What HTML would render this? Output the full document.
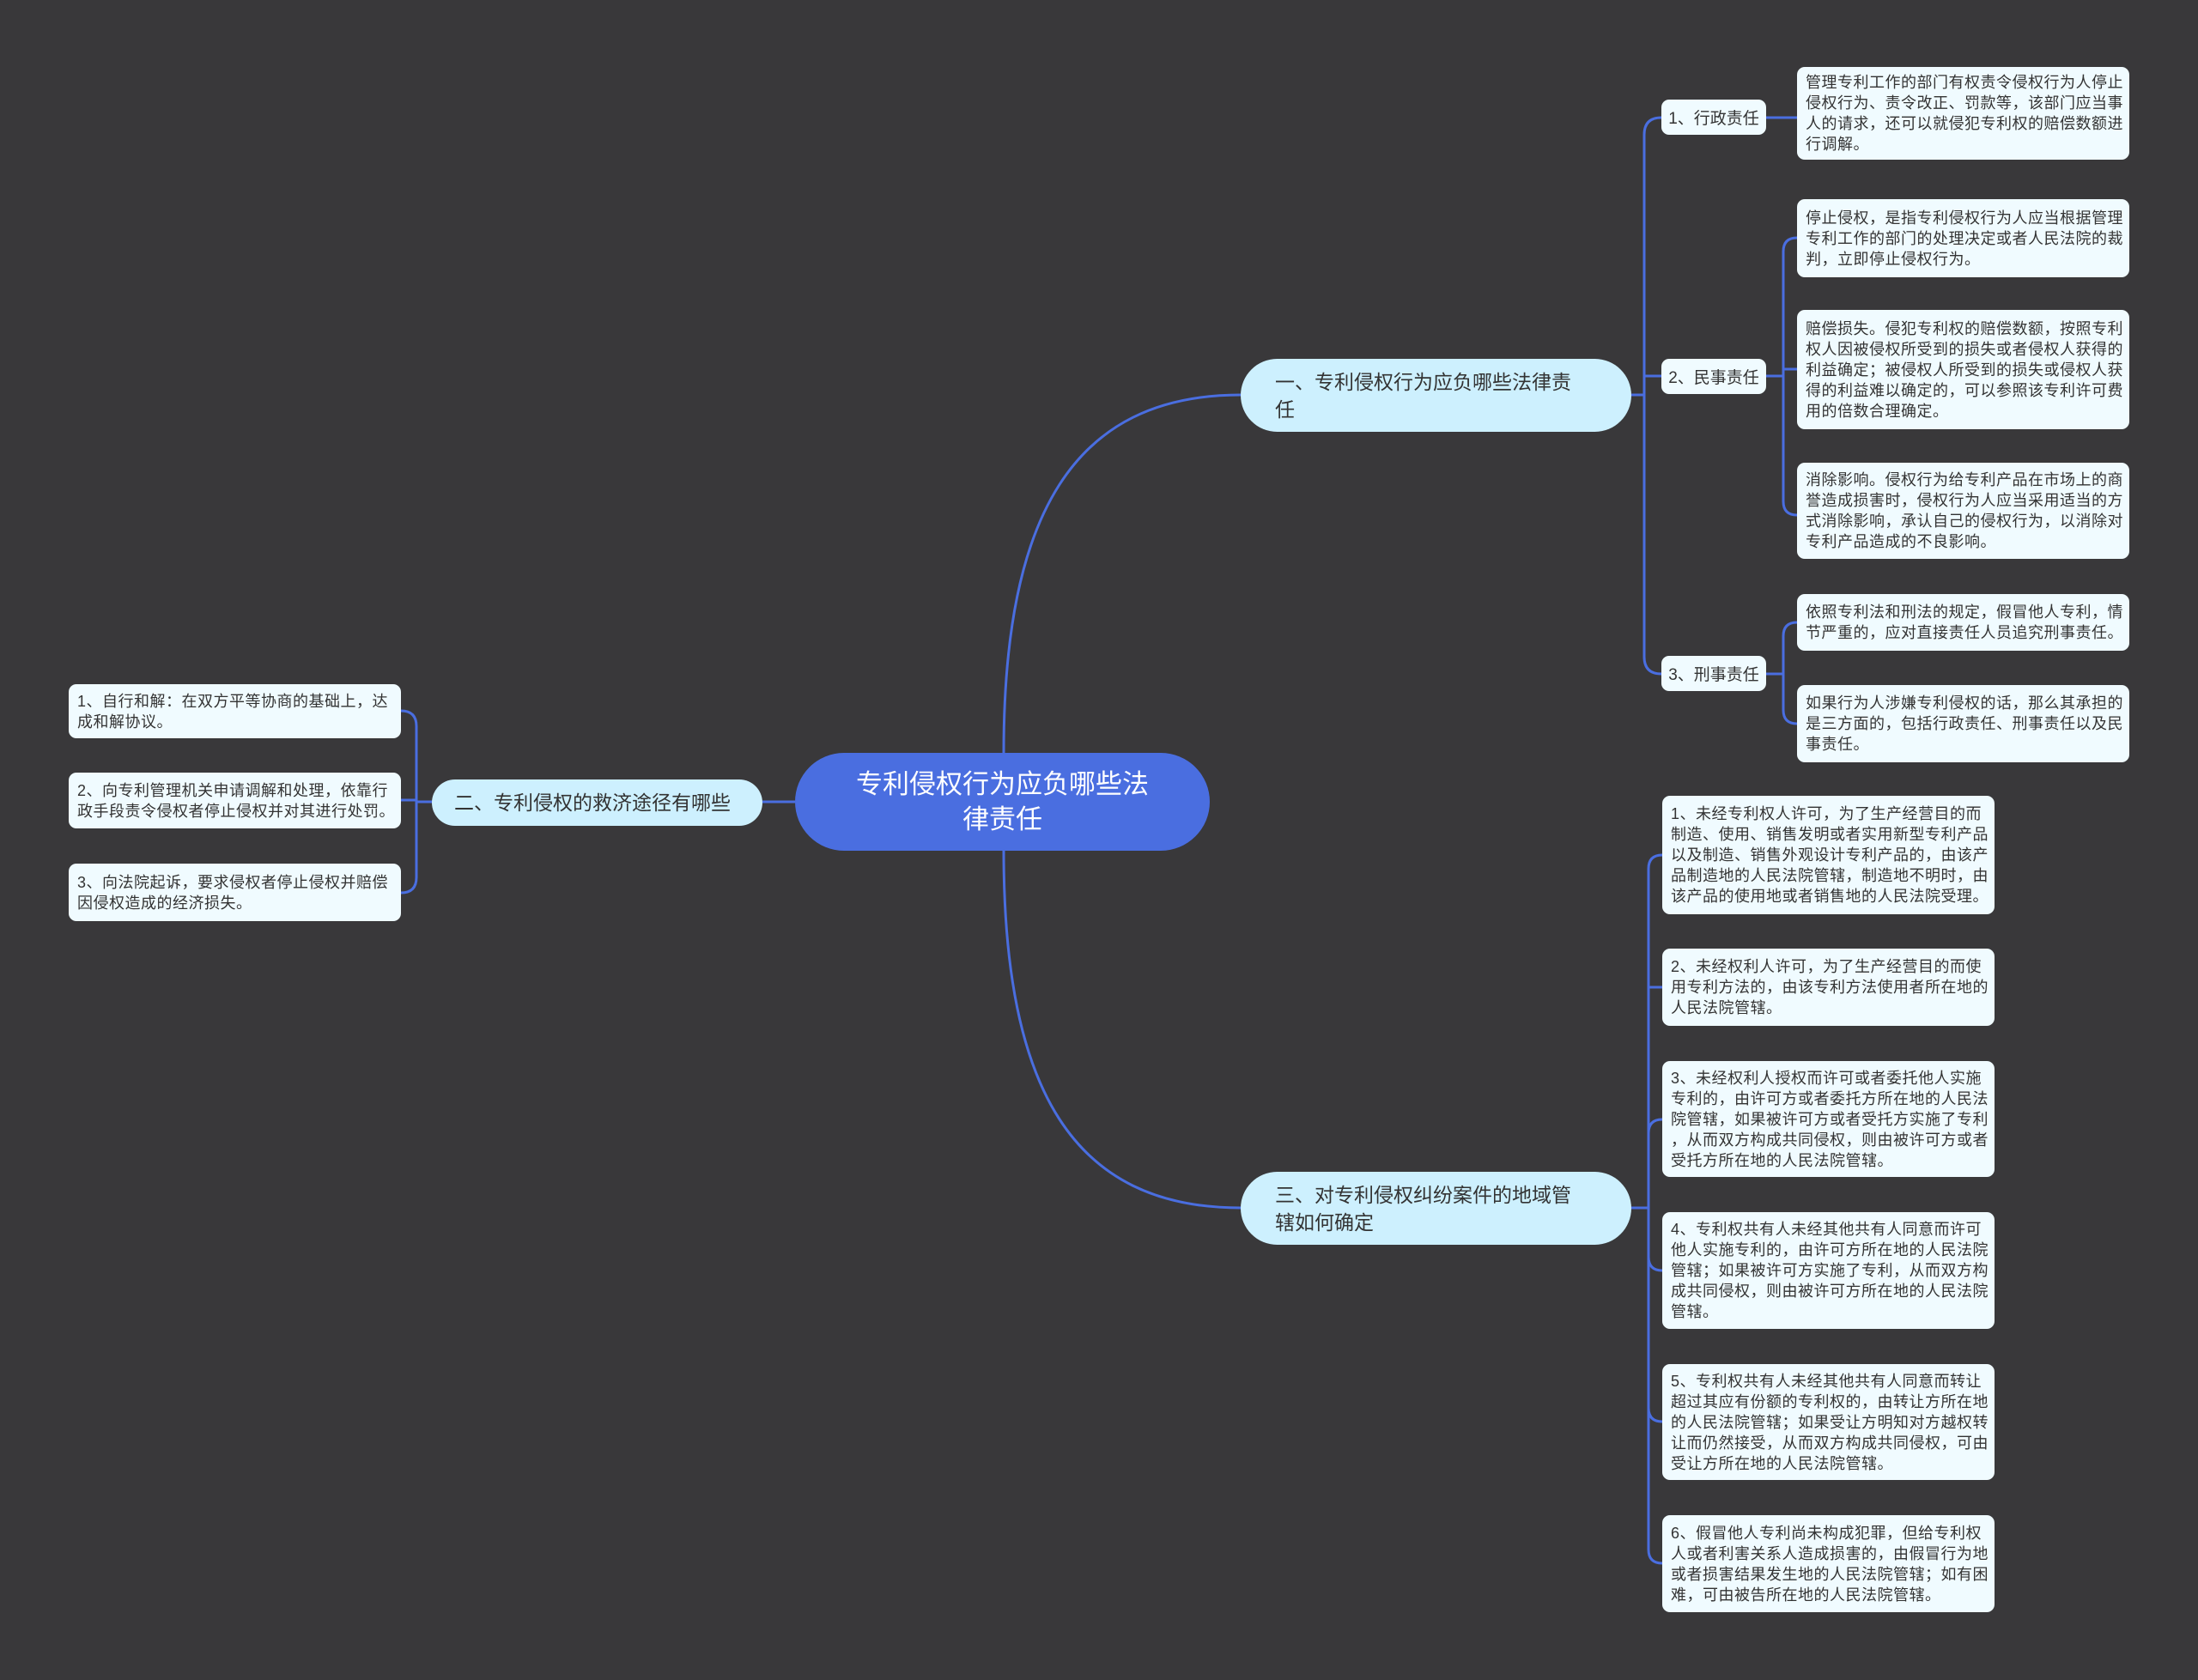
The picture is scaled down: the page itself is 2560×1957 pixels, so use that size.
<!DOCTYPE html>
<html><head><meta charset="utf-8">
<style>
html,body{margin:0;padding:0;background:#39383a;}
body{width:2560px;height:1957px;position:relative;overflow:hidden;font-family:"Liberation Sans","Noto Sans CJK SC",sans-serif;}
.leaf{position:absolute;background:#f0fbff;border-radius:9px;color:#333;font-size:18px;line-height:24px;padding:0 10px;box-sizing:border-box;white-space:nowrap;display:flex;align-items:center;letter-spacing:0.5px;}
.lab{position:absolute;background:#f0fbff;border-radius:9px;color:#333;font-size:19px;box-sizing:border-box;display:flex;align-items:center;justify-content:center;white-space:nowrap;}
.l1{position:absolute;background:#cdf0fe;color:#333;font-size:23px;line-height:32px;box-sizing:border-box;display:flex;align-items:center;border-radius:44px;padding-left:40px;}
svg{position:absolute;left:0;top:0;}
</style></head><body>
<svg width="2560" height="1957" fill="none" stroke="#4a6ee0" stroke-width="3">
<path d="M1169 877 C1169 600 1250 460 1445 460"/>
<path d="M1169 991 C1169 1270 1250 1407 1445 1407"/>
<path d="M926 934 L888 934"/>
<path d="M1900 460 L1915 460"/>
<path d="M1935 137 Q1915 137 1915 157 L1915 765 Q1915 785 1935 785"/>
<path d="M1915 438 L1935 438"/>
<path d="M2057 137 L2093 137"/>
<path d="M2057 438 L2077 438"/>
<path d="M2093 277 Q2077 277 2077 293 L2077 584 Q2077 600 2093 600"/>
<path d="M2077 430 L2093 430"/>
<path d="M2057 785 L2077 785"/>
<path d="M2093 725 Q2077 725 2077 741 L2077 827 Q2077 843 2093 843"/>
<path d="M1900 1407 L1920 1407"/>
<path d="M1936 996 Q1920 996 1920 1012 L1920 1805 Q1920 1821 1936 1821"/>
<path d="M1920 1150 L1936 1150"/>
<path d="M1920 1320 Q1920 1304 1936 1304"/>
<path d="M1920 1464 Q1920 1480 1936 1480"/>
<path d="M1920 1640 Q1920 1656 1936 1656"/>
<path d="M503 934 L485 934"/>
<path d="M467 828 Q485 828 485 846 L485 1022 Q485 1040 467 1040"/>
<path d="M485 932 L467 932"/>
</svg>

<div style="position:absolute;left:926px;top:877px;width:483px;height:114px;background:#4a6ee0;border-radius:57px;color:#fff;font-size:31px;line-height:41px;text-align:center;display:flex;align-items:center;justify-content:center;">专利侵权行为应负哪些法<br>律责任</div>

<div class="l1" style="left:1445px;top:418px;width:455px;height:85px;">一、专利侵权行为应负哪些法律责<br>任</div>
<div class="l1" style="left:1445px;top:1365px;width:455px;height:85px;">三、对专利侵权纠纷案件的地域管<br>辖如何确定</div>
<div class="l1" style="left:503px;top:908px;width:385px;height:54px;padding-left:26px;font-size:23px;">二、专利侵权的救济途径有哪些</div>

<div class="lab" style="left:1935px;top:116px;width:122px;height:41px;">1、行政责任</div>
<div class="lab" style="left:1935px;top:418px;width:122px;height:41px;">2、民事责任</div>
<div class="lab" style="left:1935px;top:764px;width:122px;height:41px;">3、刑事责任</div>

<div class="leaf" style="left:2093px;top:78px;width:387px;height:108px;">管理专利工作的部门有权责令侵权行为人停止<br>侵权行为、责令改正、罚款等，该部门应当事<br>人的请求，还可以就侵犯专利权的赔偿数额进<br>行调解。</div>
<div class="leaf" style="left:2093px;top:232px;width:387px;height:91px;">停止侵权，是指专利侵权行为人应当根据管理<br>专利工作的部门的处理决定或者人民法院的裁<br>判，立即停止侵权行为。</div>
<div class="leaf" style="left:2093px;top:361px;width:387px;height:139px;">赔偿损失。侵犯专利权的赔偿数额，按照专利<br>权人因被侵权所受到的损失或者侵权人获得的<br>利益确定；被侵权人所受到的损失或侵权人获<br>得的利益难以确定的，可以参照该专利许可费<br>用的倍数合理确定。</div>
<div class="leaf" style="left:2093px;top:539px;width:387px;height:112px;">消除影响。侵权行为给专利产品在市场上的商<br>誉造成损害时，侵权行为人应当采用适当的方<br>式消除影响，承认自己的侵权行为，以消除对<br>专利产品造成的不良影响。</div>
<div class="leaf" style="left:2093px;top:692px;width:387px;height:66px;">依照专利法和刑法的规定，假冒他人专利，情<br>节严重的，应对直接责任人员追究刑事责任。</div>
<div class="leaf" style="left:2093px;top:798px;width:387px;height:90px;">如果行为人涉嫌专利侵权的话，那么其承担的<br>是三方面的，包括行政责任、刑事责任以及民<br>事责任。</div>

<div class="leaf" style="left:1936px;top:927px;width:387px;height:138px;">1、未经专利权人许可，为了生产经营目的而<br>制造、使用、销售发明或者实用新型专利产品<br>以及制造、销售外观设计专利产品的，由该产<br>品制造地的人民法院管辖，制造地不明时，由<br>该产品的使用地或者销售地的人民法院受理。</div>
<div class="leaf" style="left:1936px;top:1105px;width:387px;height:90px;">2、未经权利人许可，为了生产经营目的而使<br>用专利方法的，由该专利方法使用者所在地的<br>人民法院管辖。</div>
<div class="leaf" style="left:1936px;top:1236px;width:387px;height:135px;">3、未经权利人授权而许可或者委托他人实施<br>专利的，由许可方或者委托方所在地的人民法<br>院管辖，如果被许可方或者受托方实施了专利<br>，从而双方构成共同侵权，则由被许可方或者<br>受托方所在地的人民法院管辖。</div>
<div class="leaf" style="left:1936px;top:1412px;width:387px;height:136px;">4、专利权共有人未经其他共有人同意而许可<br>他人实施专利的，由许可方所在地的人民法院<br>管辖；如果被许可方实施了专利，从而双方构<br>成共同侵权，则由被许可方所在地的人民法院<br>管辖。</div>
<div class="leaf" style="left:1936px;top:1589px;width:387px;height:135px;">5、专利权共有人未经其他共有人同意而转让<br>超过其应有份额的专利权的，由转让方所在地<br>的人民法院管辖；如果受让方明知对方越权转<br>让而仍然接受，从而双方构成共同侵权，可由<br>受让方所在地的人民法院管辖。</div>
<div class="leaf" style="left:1936px;top:1765px;width:387px;height:113px;">6、假冒他人专利尚未构成犯罪，但给专利权<br>人或者利害关系人造成损害的，由假冒行为地<br>或者损害结果发生地的人民法院管辖；如有困<br>难，可由被告所在地的人民法院管辖。</div>

<div class="leaf" style="left:80px;top:797px;width:387px;height:63px;">1、自行和解：在双方平等协商的基础上，达<br>成和解协议。</div>
<div class="leaf" style="left:80px;top:900px;width:387px;height:65px;">2、向专利管理机关申请调解和处理，依靠行<br>政手段责令侵权者停止侵权并对其进行处罚。</div>
<div class="leaf" style="left:80px;top:1006px;width:387px;height:67px;">3、向法院起诉，要求侵权者停止侵权并赔偿<br>因侵权造成的经济损失。</div>
</body></html>
